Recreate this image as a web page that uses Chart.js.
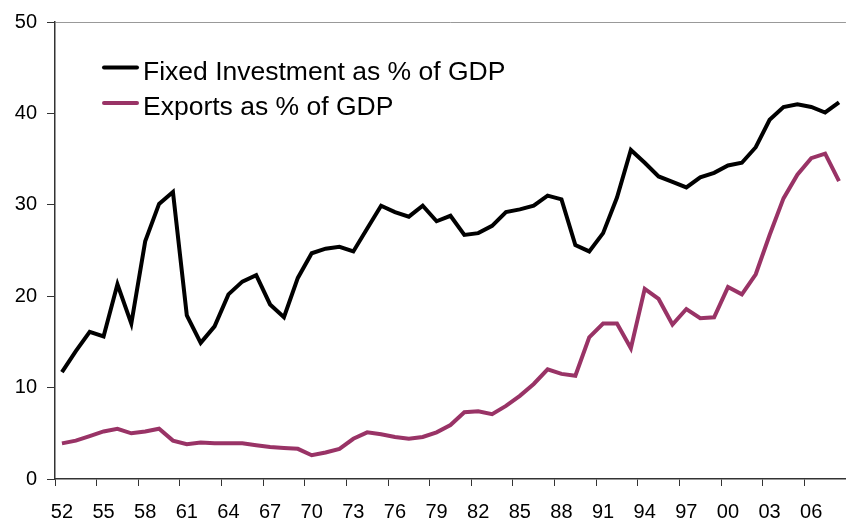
<!DOCTYPE html>
<html>
<head>
<meta charset="utf-8">
<script src="https://cdn.jsdelivr.net/npm/chart.js@4.4.1/dist/chart.umd.min.js"></script>
<style>
  html, body { margin: 0; padding: 0; background: #fff; }
  #wrap { width: 847px; height: 523px; overflow: hidden; }
</style>
</head>
<body>
<div id="wrap"><canvas id="chart" width="853" height="523"></canvas></div>
<script>
// Years 1952-2008, two-digit labels
const years = ['52','53','54','55','56','57','58','59','60','61','62','63','64','65','66','67','68','69',
  '70','71','72','73','74','75','76','77','78','79','80','81','82','83','84','85','86','87','88','89',
  '90','91','92','93','94','95','96','97','98','99','00','01','02','03','04','05','06','07','08'];

const fixedInvestment = [11.7, 14.0, 16.1, 15.6, 21.3, 17.0, 26.0, 30.1, 31.4, 17.9, 14.9, 16.7, 20.2, 21.6, 22.3, 19.1, 17.7, 22.0,
  24.7, 25.2, 25.4, 24.9, 27.4, 29.9, 29.2, 28.7, 29.9, 28.2, 28.8, 26.7, 26.9, 27.7, 29.2, 29.5, 29.9, 31.0, 30.6, 25.6,
  24.9, 26.9, 30.8, 36.0, 34.6, 33.1, 32.5, 31.9, 33.0, 33.5, 34.3, 34.6, 36.3, 39.3, 40.7, 41.0, 40.7, 40.1, 41.2];

const exportsShare = [3.9, 4.2, 4.7, 5.2, 5.5, 5.0, 5.2, 5.5, 4.2, 3.8, 4.0, 3.9, 3.9, 3.9, 3.7, 3.5, 3.4, 3.3,
  2.6, 2.9, 3.3, 4.4, 5.1, 4.9, 4.6, 4.4, 4.6, 5.1, 5.9, 7.3, 7.4, 7.1, 8.0, 9.1, 10.4, 12.0, 11.5, 11.3,
  15.5, 17.0, 17.0, 14.3, 20.8, 19.7, 16.9, 18.6, 17.6, 17.7, 21.0, 20.2, 22.4, 26.7, 30.7, 33.3, 35.1, 35.6, 32.6];

const yTicks = [0, 10, 20, 30, 40, 50];

const FONT = 'Liberation Sans, Arial, sans-serif';
const AXIS = '#333333';

// legend drawn inside the plot area, stacked
const insideLegend = {
  id: 'insideLegend',
  afterDraw(chart) {
    const ctx = chart.ctx;
    ctx.save();
    ctx.font = '26.5px ' + FONT;
    ctx.textBaseline = 'alphabetic';
    ctx.textAlign = 'left';
    chart.data.datasets.forEach((ds, i) => {
      const y = 67.5 + i * 35.5;
      ctx.strokeStyle = ds.borderColor;
      ctx.lineWidth = 4;
      ctx.lineCap = 'round';
      ctx.beginPath();
      ctx.moveTo(104, y);
      ctx.lineTo(137, y);
      ctx.stroke();
      ctx.fillStyle = '#000';
      ctx.fillText(ds.label, 143, y + 12);
    });
    ctx.restore();
  }
};

new Chart(document.getElementById('chart'), {
  type: 'line',
  data: {
    labels: years,
    datasets: [{
      label: 'Fixed Investment as % of GDP',
      data: fixedInvestment,
      borderColor: '#000000',
      borderWidth: 4,
      pointRadius: 0,
      tension: 0
    }, {
      label: 'Exports as % of GDP',
      data: exportsShare,
      borderColor: '#993366',
      borderWidth: 4,
      pointRadius: 0,
      tension: 0
    }]
  },
  options: {
    responsive: false,
    animation: false,
    layout: { padding: { top: 19, left: 0, right: 0, bottom: 0 } },
    plugins: { legend: { display: false }, tooltip: { enabled: false } },
    scales: {
      x: {
        type: 'category',
        offset: true,
        afterFit: s => { s.height = 44; },
        border: { color: AXIS, width: 1.5 },
        grid: {
          offset: true,
          drawOnChartArea: false,
          tickLength: 7,
          tickColor: c => (c.index % 3 === 0 ? AXIS : 'rgba(0,0,0,0)')
        },
        ticks: {
          autoSkip: false,
          maxRotation: 0,
          padding: 14,
          color: '#000',
          font: { family: FONT, size: 20 },
          callback: (v, i) => (i % 3 === 0 ? years[i] : '')
        }
      },
      y: {
        min: 0,
        max: 50,
        afterFit: s => { s.width = 55; },
        afterBuildTicks: s => { s.ticks = yTicks.map(v => ({ value: v })); },
        border: { color: AXIS, width: 1.5 },
        grid: {
          color: c => (c.tick && c.tick.value === 50 ? '#999999' : 'rgba(0,0,0,0)'),
          tickColor: AXIS,
          tickLength: 8
        },
        ticks: {
          padding: 10,
          color: '#000',
          font: { family: FONT, size: 20 }
        }
      }
    }
  },
  plugins: [insideLegend]
});
</script>
</body>
</html>
